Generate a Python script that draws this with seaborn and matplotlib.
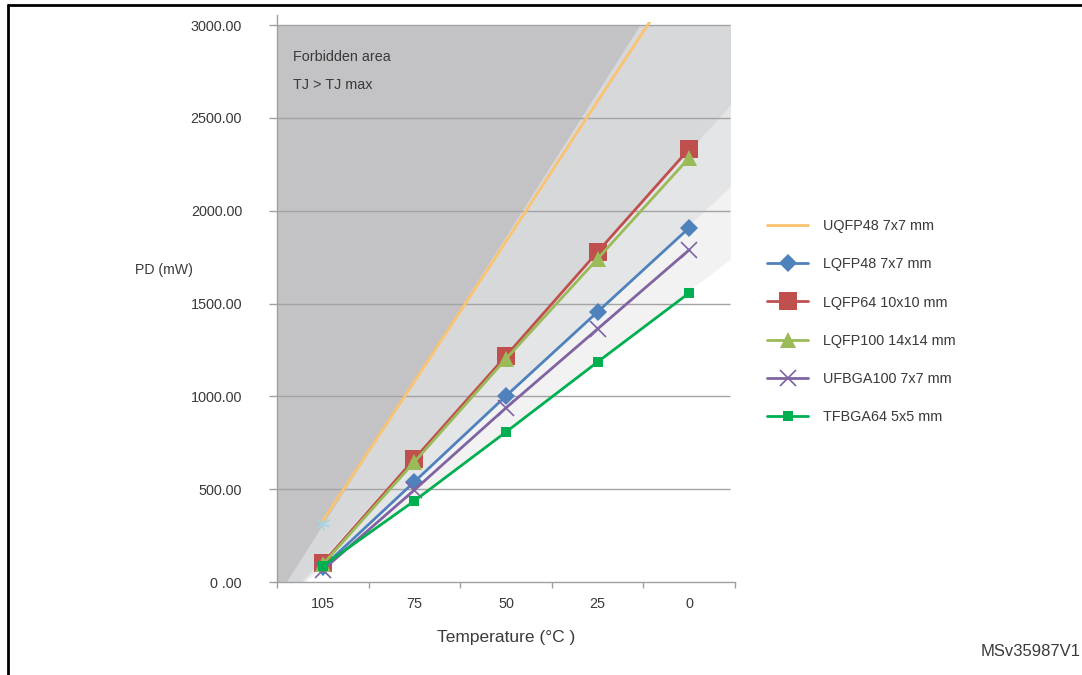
import seaborn as sns
import matplotlib.pyplot as plt
from matplotlib.lines import Line2D
from matplotlib.patches import Rectangle
import pandas as pd
import numpy as np

# values (mW)
temps = ["105", "75", "50", "25", "0"]
uqfp48 = [330, 1080, 1835, 2590, 3340]
lqfp48 = [80, 540, 1002, 1455, 1908]
lqfp64 = [102, 663, 1218, 1778, 2333]
lqfp100 = [95, 647, 1202, 1741, 2285]
ufbga100 = [65, 496, 938, 1363, 1789]
tfbga64 = [86, 437, 808, 1185, 1557]
extra_point = 318  # light blue marker at 105 C

names = ["UQFP48 7x7 mm", "LQFP48 7x7 mm", "LQFP64 10x10 mm",
         "LQFP100 14x14 mm", "UFBGA100 7x7 mm", "TFBGA64 5x5 mm"]
series = [uqfp48, lqfp48, lqfp64, lqfp100, ufbga100, tfbga64]
colors = ["#fac36f", "#4f81bd", "#c0504d", "#9bbb59", "#8064a2", "#00b050"]
markers = [None, "D", "s", "^", "x", "s"]
msizes = [0, 9, 12.5, 12, 11, 7]

df = pd.DataFrame({"pos": np.arange(len(temps))})
for n, s in zip(names, series):
    df[n] = s

sns.set_theme(style="white")
plt.rcParams['font.family'] = ['Liberation Sans', 'DejaVu Sans']
txt = "#3a3a3a"

fig = plt.figure(figsize=(10.82, 6.75), dpi=100)
W, H = 1082, 675
ax = fig.add_axes([277 / W, 1 - 582 / H, (735 - 277) / W, (582 - 15) / H])
ax.set_xlim(-0.5, 4.5)
ax.set_ylim(0, 3054)

# background shading (forbidden area and lighter bands)
xs = np.linspace(-0.5, 4.45, 400)
bands = [(-0.20, 374, "#f2f2f3"), (-0.22, 456, "#e4e5e7"),
         (-0.24, 548, "#d7d8da"), (-0.40, 777, "#c3c3c5")]
for x0, slope, col in bands:
    lo = np.clip(slope * (xs - x0), 0, 3000)
    ax.fill_between(xs, lo, 3000, where=lo < 3000, color=col, lw=0, zorder=0)

ax.hlines([500, 1000, 1500, 2000, 2500, 3000], -0.5, 4.45,
          color="#a3a3a3", lw=1, zorder=1)

for n, c, m, ms in zip(names, colors, markers, msizes):
    sns.lineplot(data=df, x="pos", y=n, ax=ax, color=c, lw=2.0,
                 marker=m, markersize=ms, markeredgecolor=c,
                 markeredgewidth=1.2 if m == "x" else 0, label=n, zorder=3)

# clip the UQFP48 line just above the 3000 line
ax.lines[0].set_clip_path(Rectangle((-0.5, 0), 5, 3016, transform=ax.transData))
ax.plot([0], [extra_point], marker=(6, 2, 0), ms=10, mew=1,
        color="#a6d6e6", ls="none", zorder=2)

ax.text(-0.32, 2830, "Forbidden area", fontsize=10.4, color=txt, va="center")
ax.text(-0.32, 2678, "TJ > TJ max", fontsize=10.4, color=txt, va="center")

# axes styling
for side in ["top", "right"]:
    ax.spines[side].set_visible(False)
for side in ["left", "bottom"]:
    ax.spines[side].set_color("#a0a0a0")
    ax.spines[side].set_linewidth(1)

ax.set_yticks([0, 500, 1000, 1500, 2000, 2500, 3000])
ax.set_yticklabels(["0 .00", "500.00", "1000.00", "1500.00", "2000.00",
                    "2500.00", "3000.00"])
ax.tick_params(axis="y", length=5.8, width=1, color="#a0a0a0", pad=19.4,
               labelsize=10.4, labelcolor=txt, left=True)
ax.set_xticks(range(len(temps)))
ax.set_xticklabels(temps)
ax.set_xticks(np.arange(-0.5, 5, 1), minor=True)
ax.tick_params(axis="x", which="major", length=0, pad=11, labelsize=10.4,
               labelcolor=txt)
ax.tick_params(axis="x", which="minor", length=4.3, width=1, color="#a0a0a0",
               bottom=True)

ax.set_xlabel("Temperature (°C )", fontsize=12.5, color=txt, labelpad=13.5)
ax.set_ylabel("PD (mW)", rotation=0, fontsize=10.2, color=txt,
              ha="right", va="center")
ax.yaxis.set_label_coords((193 - 277) / 458, (582 - 270) / 567)

handles, labels = ax.get_legend_handles_labels()
ax.legend(handles, labels, loc="upper left",
          bbox_to_anchor=(767 / W, 1 - 219 / H), bbox_transform=fig.transFigure,
          frameon=False, fontsize=10.4, labelspacing=1.68, handlelength=2.85,
          handletextpad=1.0, borderpad=0, borderaxespad=0, labelcolor=txt)

fig.text(981 / W, 1 - 652 / H, "MSv35987V1", fontsize=12, color=txt,
         ha="left", va="center")

# frame around the figure
fig.add_artist(Line2D([8 / W, 1], [1 - 5 / H, 1 - 5 / H], color="black", lw=2))
fig.add_artist(Line2D([8 / W, 8 / W], [0, 1 - 5 / H], color="black", lw=2))

fig.savefig("out.png", dpi=100)
